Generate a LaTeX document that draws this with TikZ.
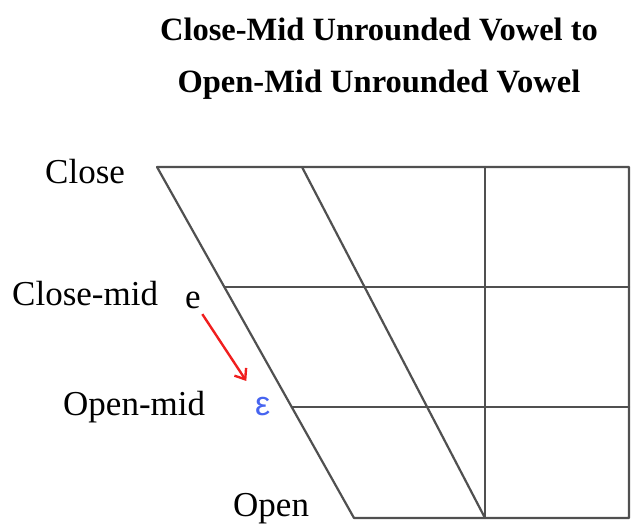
\documentclass[tikz,border=0pt]{standalone}
\usepackage{fontspec}
\setmainfont{Liberation Serif}
\newfontfamily\vowelsans{Liberation Sans}
\usetikzlibrary{calc,arrows.meta}
\definecolor{gridgray}{RGB}{80,80,80}
\definecolor{arrowred}{RGB}{240,30,30}
\definecolor{vowelblue}{RGB}{70,100,240}
\begin{document}
\begin{tikzpicture}[x=1pt,y=-1pt,
  gridline/.style={draw=gridgray,line width=2.2pt,line join=round,line cap=round},
  heightlabel/.style={anchor=base west,inner sep=0pt,font=\fontsize{35}{40}\selectfont},
  vowel/.style={anchor=base west,inner sep=0pt,font=\fontsize{35}{40}\selectfont},
  titleline/.style={anchor=base,inner sep=0pt,font=\fontsize{32.5}{38}\selectfont\bfseries},
  shift arrow/.style={draw=arrowred,line width=2.4pt,-{Straight Barb[length=9pt,width=14pt,line width=2.4pt]}}]
  \useasboundingbox (0,0) rectangle (633,527);

  % title
  \node[titleline] (title1) at (379,41) {Close-Mid Unrounded Vowel to};
  \node[titleline] (title2) at (379,93) {Open-Mid Unrounded Vowel};

  % corners of the vowel quadrilateral
  \coordinate (tl) at (157,167);
  \coordinate (tr) at (629,167);
  \coordinate (br) at (629,518);
  \coordinate (bl) at (354,518);
  \coordinate (tmid) at (302,167);
  \coordinate (bmid) at (485,518);
  \coordinate (tcen) at (485,167);
  \coordinate (cml) at ($(tl)!0.342!(bl)$);
  \coordinate (oml) at ($(tl)!0.684!(bl)$);
  \coordinate (cmr) at ($(tr)!0.342!(br)$);
  \coordinate (omr) at ($(tr)!0.684!(br)$);

  \draw[gridline] (tl) -- (tr) -- (br) -- (bl) -- cycle;
  \draw[gridline] (tmid) -- (bmid);
  \draw[gridline] (tcen) -- (bmid);
  \draw[gridline] (cml) -- (cmr);
  \draw[gridline] (oml) -- (omr);

  % height labels
  \node[heightlabel] (close) at (45,183) {Close};
  \node[heightlabel] (closemid) at (12,305) {Close-mid};
  \node[heightlabel] (openmid) at (63,415) {Open-mid};
  \node[heightlabel] (open) at (233,516) {Open};

  % vowels and the shift between them
  \node[vowel] (e) at (185,308) {e};
  \node[vowel,text=vowelblue,font=\fontsize{34}{40}\vowelsans] (eps) at (255,415) {ε};
  \draw[shift arrow] ($(e.center)!17pt!(eps.center)$) -- ($(eps.center)!30pt!(e.center)$);
\end{tikzpicture}
\end{document}
